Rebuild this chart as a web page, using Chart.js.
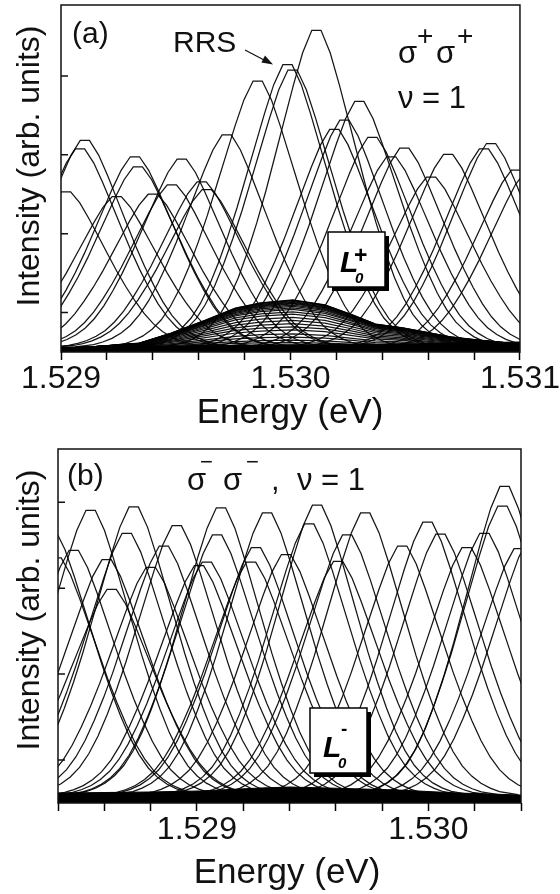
<!DOCTYPE html>
<html>
<head>
<meta charset="utf-8">
<script src="https://cdn.jsdelivr.net/npm/chart.js@4.4.1/dist/chart.umd.min.js"></script>
<style>
    html, body { margin: 0; padding: 0; background: #fff; }
    body { width: 560px; height: 894px; position: relative; overflow: hidden; }
    canvas { position: absolute; left: 0; }
    #chartA { top: 0; }
    #chartB { top: 435px; }
</style>
</head>
<body>
<canvas id="chartA" width="560" height="435"></canvas>
<canvas id="chartB" width="560" height="459"></canvas>
<script>
// --- values ---

// shape of one RRS line: offset from its centre (meV) and relative height
const PROFILE_DX = [-0.66, -0.58, -0.54, -0.50, -0.46, -0.42, -0.38, -0.34, -0.30, -0.26, -0.22, -0.18, -0.14, -0.10, -0.06, -0.02,
                    0.02, 0.06, 0.10, 0.14, 0.18, 0.22, 0.26, 0.30, 0.34, 0.38, 0.42, 0.46, 0.50, 0.54, 0.58, 0.66];
const PROFILE_Y = [0.005, 0.016, 0.028, 0.045, 0.07, 0.105, 0.155, 0.22, 0.30, 0.39, 0.49, 0.60, 0.71, 0.82, 0.92, 0.99,
                   0.99, 0.92, 0.82, 0.71, 0.60, 0.49, 0.39, 0.30, 0.22, 0.155, 0.105, 0.07, 0.045, 0.028, 0.016, 0.005];

// (a) sigma+ sigma+
const X_TICKS_A = [1.5290, 1.5292, 1.5294, 1.5296, 1.5298, 1.5300, 1.5302, 1.5304, 1.5306, 1.5308, 1.5310];
const X_MAJOR_A = [1.529, 1.530, 1.531];
const Y_TICKS_A = [0.5, 1.5, 2.5, 3.5];
const PEAK_E_A = [1.529022, 1.529083, 1.529104, 1.529243, 1.529322, 1.529335, 1.529400, 1.529483, 1.529526, 1.529613,
                  1.529635, 1.529722, 1.529857, 1.529987, 1.530009, 1.530113, 1.530191, 1.530235, 1.530300, 1.530357,
                  1.530439, 1.530496, 1.530613, 1.530687, 1.530843, 1.530874, 1.530983, 1.531040];
const PEAK_H_A = [2.05, 2.60, 2.71, 1.99, 2.50, 2.37, 2.02, 2.14, 2.47, 2.18,
                  2.08, 2.78, 3.47, 3.68, 3.61, 4.12, 2.85, 2.97, 3.21, 2.75,
                  2.50, 2.61, 2.24, 2.53, 2.60, 2.67, 2.33, 2.30];
// L0+ band: shape and the height of each curve of the stack
const HUMP_E_A = [1.52900, 1.52912, 1.52934, 1.52948, 1.52963, 1.52976, 1.52987, 1.53001, 1.53015,
                  1.53027, 1.53037, 1.53049, 1.53059, 1.53070, 1.53081, 1.53092, 1.53100];
const HUMP_Y_A = [0.0, 0.02, 0.10, 0.31, 0.58, 0.83, 0.94, 1.0, 0.90, 0.69, 0.50, 0.42, 0.33, 0.23, 0.17, 0.12, 0.08];
const HUMP_PEAK_A = [0.61, 0.605, 0.60, 0.59, 0.58, 0.57, 0.56, 0.545, 0.53, 0.51, 0.49, 0.46,
                     0.43, 0.39, 0.35, 0.31, 0.27, 0.23, 0.18, 0.14, 0.10, 0.07, 0.04];
const BAND_E_A = [1.5290, 1.5295, 1.5300, 1.5305, 1.5310];
const BAND_TOP_A = [0.063, 0.076, 0.09, 0.10, 0.127];

// (b) sigma- sigma-
const X_TICKS_B = [1.5284, 1.5286, 1.5288, 1.5290, 1.5292, 1.5294, 1.5296, 1.5298, 1.5300, 1.5302, 1.5304];
const X_MAJOR_B = [1.529, 1.530];
const Y_TICKS_B = [0.5, 1.5, 2.5, 3.5];
const PEAK_E_B = [1.528370, 1.528394, 1.528468, 1.528541, 1.528610, 1.528632, 1.528697, 1.528727, 1.528801, 1.528857,
                  1.528913, 1.529009, 1.529043, 1.529087, 1.529104, 1.529234, 1.529255, 1.529303, 1.529385, 1.529485,
                  1.529519, 1.529610, 1.529649, 1.529727, 1.529887, 1.529996, 1.530052, 1.530165, 1.530242, 1.530320,
                  1.530329, 1.530390, 1.530450];
const PEAK_H_B = [3.20, 2.88, 2.97, 3.44, 2.86, 2.51, 3.17, 3.48, 2.77, 3.02,
                  3.26, 2.79, 2.83, 3.15, 3.47, 2.83, 3.00, 3.41, 2.92, 3.28,
                  3.50, 2.84, 3.15, 3.41, 3.02, 3.30, 3.16, 3.00, 3.17, 3.49,
                  3.72, 2.99, 3.10];
const BAND_E_B = [1.5284, 1.52879, 1.52901, 1.52927, 1.52940, 1.52957, 1.52987, 1.53013, 1.5304];
const BAND_TOP_B = [0.116, 0.128, 0.14, 0.174, 0.186, 0.174, 0.151, 0.116, 0.093];

const FONT = '"Liberation Sans", Arial, sans-serif';
const LINE = 'rgba(0,0,0,0.92)';

function peakPoints(e0, h, base) {
    return PROFILE_DX.map((dx, i) => ({ x: e0 + dx * 0.001, y: base + (h - base) * PROFILE_Y[i] }));
}

function lineSet(points) {
    return { data: points, showLine: true, borderColor: LINE, borderWidth: 1.25, pointRadius: 0, fill: false, clip: 0 };
}

function buildDatasets(p) {
    const sets = [];
    sets.push({
        data: p.bandE.map((e, i) => ({ x: e, y: p.bandTop[i] })),
        showLine: true, fill: 'origin', backgroundColor: '#000', borderColor: '#000',
        borderWidth: 1, pointRadius: 0, clip: 0
    });
    (p.humpPeak || []).forEach(h => {
        sets.push(lineSet(p.humpE.map((e, i) => ({ x: e, y: p.base + h * p.humpY[i] }))));
    });
    p.peakE.forEach((e, i) => sets.push(lineSet(peakPoints(e, p.peakH[i], p.base))));
    return sets;
}

function text(ctx, str, x, y, font, align) {
    ctx.font = font;
    ctx.textAlign = align || 'left';
    ctx.fillText(str, x, y);
}

// frame, inward y ticks, axis titles
function drawCommon(chart, p) {
    const ctx = chart.ctx;
    const a = chart.chartArea;
    ctx.save();
    ctx.strokeStyle = '#111';
    ctx.lineWidth = 1.5;
    ctx.strokeRect(a.left, a.top, a.right - a.left, a.bottom - a.top);
    ctx.beginPath();
    p.yTicks.forEach(v => {
        const y = chart.scales.y.getPixelForValue(v);
        ctx.moveTo(a.left, y);
        ctx.lineTo(a.left + 7, y);
    });
    ctx.stroke();

    ctx.fillStyle = '#111';
    ctx.textBaseline = 'alphabetic';
    text(ctx, 'Energy (eV)', p.xTitleX, p.xTitleY, '35px ' + FONT, 'center');
    ctx.translate(39, p.yTitleY);
    ctx.rotate(-Math.PI / 2);
    text(ctx, 'Intensity (arb. units)', 0, 0, '32px ' + FONT, 'center');
    ctx.restore();
}

function drawTag(ctx, x, y, w, h, sign, lx, ly) {
    ctx.save();
    ctx.fillStyle = '#000';
    ctx.fillRect(x + 4, y + 4, w, h);
    ctx.fillStyle = '#fff';
    ctx.fillRect(x, y, w, h);
    ctx.strokeStyle = '#000';
    ctx.lineWidth = 1.5;
    ctx.strokeRect(x, y, w, h);
    ctx.fillStyle = '#000';
    text(ctx, 'L', lx, ly, 'italic bold 30px ' + FONT);
    text(ctx, '0', lx + 15, ly + 11, 'italic bold 15px ' + FONT);
    if (sign === '+') text(ctx, '+', lx + 14, ly - 9, 'bold 23px ' + FONT);
    else text(ctx, '-', lx + 18, ly - 22, 'bold 19px ' + FONT);
    ctx.restore();
}

function makeChart(id, p) {
    return new Chart(document.getElementById(id), {
        type: 'scatter',
        data: { datasets: buildDatasets(p) },
        options: {
            responsive: false,
            animation: false,
            events: [],
            layout: { padding: { top: p.padTop, right: 39, left: 0, bottom: 0 } },
            plugins: { legend: { display: false }, tooltip: { enabled: false } },
            scales: {
                x: {
                    type: 'linear', min: p.xMin, max: p.xMax,
                    afterBuildTicks: s => { s.ticks = p.xTicks.map(v => ({ value: v })); },
                    afterFit: s => { s.height = p.xAxisH; },
                    grid: { drawOnChartArea: false, drawTicks: true, tickLength: 8, tickWidth: 1.5, tickColor: '#000' },
                    border: { display: false },
                    ticks: {
                        autoSkip: false, maxRotation: 0, padding: 0, color: '#111',
                        font: { family: FONT, size: 32 },
                        callback: v => {
                            const m = p.xMajor.find(t => Math.abs(t - v) < 1e-7);
                            return m === undefined ? '' : m.toFixed(3);
                        }
                    }
                },
                y: {
                    min: 0, max: p.yMax,
                    afterFit: s => { s.width = p.yAxisW; },
                    grid: { display: false },
                    border: { display: false },
                    ticks: { display: false }
                }
            }
        },
        plugins: [{ id: 'deco', afterDraw: chart => { drawCommon(chart, p); p.extra(chart.ctx); } }]
    });
}

makeChart('chartA', {
    xMin: 1.529, xMax: 1.531, yMax: 4.4, padTop: 5, xAxisH: 83, yAxisW: 61,
    xTicks: X_TICKS_A, xMajor: X_MAJOR_A, yTicks: Y_TICKS_A, base: 0.05,
    peakE: PEAK_E_A, peakH: PEAK_H_A,
    humpE: HUMP_E_A, humpY: HUMP_Y_A, humpPeak: HUMP_PEAK_A,
    bandE: BAND_E_A, bandTop: BAND_TOP_A,
    xTitleX: 290, xTitleY: 423, yTitleY: 166,
    extra: ctx => {
        ctx.save();
        ctx.fillStyle = '#111';
        ctx.strokeStyle = '#111';
        ctx.textBaseline = 'alphabetic';
        text(ctx, '(a)', 72, 43, '30px ' + FONT);
        text(ctx, 'RRS', 173, 52, '30px ' + FONT);
        ctx.lineWidth = 1.2;
        ctx.beginPath();
        ctx.moveTo(245, 50);
        ctx.lineTo(265, 60.5);
        ctx.stroke();
        ctx.beginPath();
        ctx.moveTo(273, 64.5);
        ctx.lineTo(261.4, 62.5);
        ctx.lineTo(265, 55.4);
        ctx.closePath();
        ctx.fill();
        text(ctx, 'σ', 398, 63, '31px ' + FONT);
        text(ctx, '+', 417, 45, '28px ' + FONT);
        text(ctx, 'σ', 436, 63, '31px ' + FONT);
        text(ctx, '+', 457, 45, '28px ' + FONT);
        text(ctx, 'ν = 1', 398, 108, '31px ' + FONT);
        ctx.restore();
        drawTag(ctx, 328, 232, 57, 55, '+', 340, 272);
    }
});

makeChart('chartB', {
    xMin: 1.5284, xMax: 1.5304, yMax: 4.12, padTop: 14, xAxisH: 91, yAxisW: 58,
    xTicks: X_TICKS_B, xMajor: X_MAJOR_B, yTicks: Y_TICKS_B, base: 0.08,
    peakE: PEAK_E_B, peakH: PEAK_H_B,
    bandE: BAND_E_B, bandTop: BAND_TOP_B,
    xTitleX: 287, xTitleY: 448, yTitleY: 175,
    extra: ctx => {
        ctx.save();
        ctx.fillStyle = '#111';
        ctx.textBaseline = 'alphabetic';
        text(ctx, '(b)', 67, 50, '30px ' + FONT);
        text(ctx, 'σ', 187, 55, '31px ' + FONT);
        text(ctx, '−', 200, 34, '22px ' + FONT);
        text(ctx, 'σ', 223, 55, '31px ' + FONT);
        text(ctx, '−', 246, 34, '22px ' + FONT);
        text(ctx, ',', 271, 55, '31px ' + FONT);
        text(ctx, 'ν = 1', 297, 55, '31px ' + FONT);
        ctx.restore();
        drawTag(ctx, 310, 273, 57, 65, '-', 323, 322);
    }
});
</script>
</body>
</html>
